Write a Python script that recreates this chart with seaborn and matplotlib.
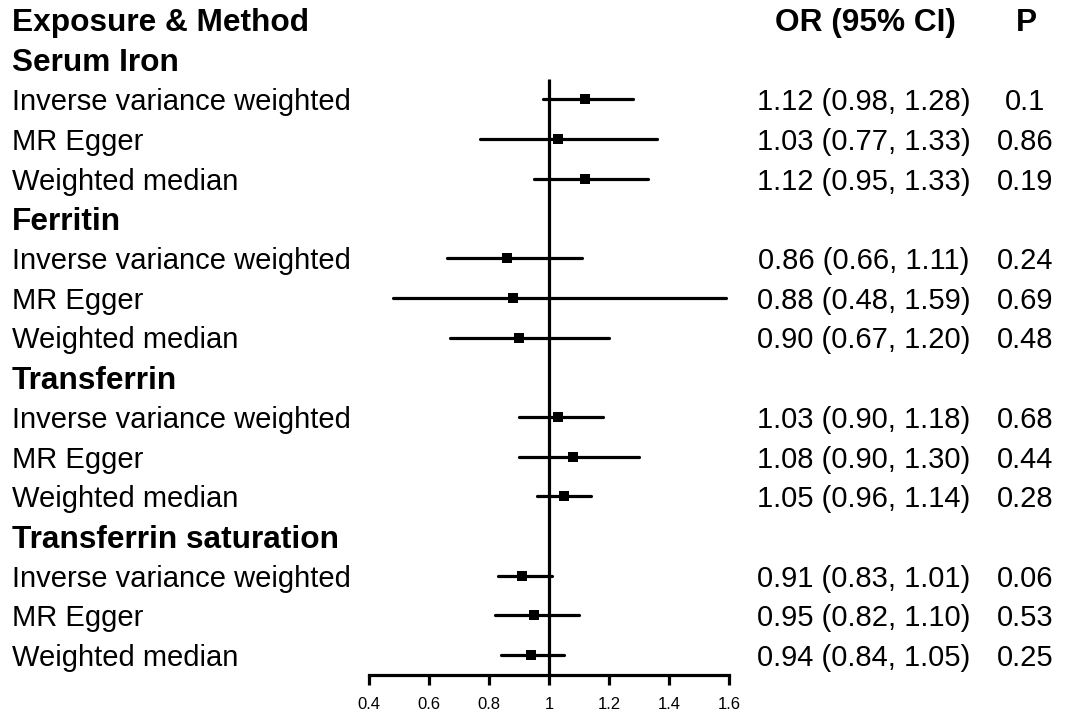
import numpy as np
import pandas as pd
import seaborn as sns
import matplotlib.pyplot as plt
import matplotlib.transforms as mtransforms

# values
exposures = ['Serum Iron', 'Ferritin', 'Transferrin', 'Transferrin saturation']
methods = ['Inverse variance weighted', 'MR Egger', 'Weighted median']
orEst = [1.12, 1.03, 1.12, 0.86, 0.88, 0.90, 1.03, 1.08, 1.05, 0.91, 0.95, 0.94]
ciLow = [0.98, 0.77, 0.95, 0.66, 0.48, 0.67, 0.90, 0.90, 0.96, 0.83, 0.82, 0.84]
ciHigh = [1.28, 1.36, 1.33, 1.11, 1.59, 1.20, 1.18, 1.30, 1.14, 1.01, 1.10, 1.05]
orText = ['1.12 (0.98, 1.28)', '1.03 (0.77, 1.33)', '1.12 (0.95, 1.33)',
          '0.86 (0.66, 1.11)', '0.88 (0.48, 1.59)', '0.90 (0.67, 1.20)',
          '1.03 (0.90, 1.18)', '1.08 (0.90, 1.30)', '1.05 (0.96, 1.14)',
          '0.91 (0.83, 1.01)', '0.95 (0.82, 1.10)', '0.94 (0.84, 1.05)']
pText = ['0.1', '0.86', '0.19', '0.24', '0.69', '0.48',
         '0.68', '0.44', '0.28', '0.06', '0.53', '0.25']
xTicks = [0.4, 0.6, 0.8, 1.0, 1.2, 1.4, 1.6]
xTickLabels = ['0.4', '0.6', '0.8', '1', '1.2', '1.4', '1.6']

sns.set_style('white')
plt.rcParams['font.family'] = ['Liberation Sans', 'DejaVu Sans']
plt.rcParams['text.color'] = 'black'
plt.rcParams['xtick.color'] = 'black'
plt.rcParams['xtick.labelcolor'] = 'black'

# build row layout: header row 0, then group title + 3 method rows per exposure
rows = []
r = 1
for gi, exp in enumerate(exposures):
    rows.append({'row': r, 'label': exp, 'kind': 'group'})
    r += 1
    for mi, m in enumerate(methods):
        k = gi * 3 + mi
        rows.append({'row': r, 'label': m, 'kind': 'method', 'or': orEst[k],
                     'lo': ciLow[k], 'hi': ciHigh[k], 'ortxt': orText[k], 'p': pText[k]})
        r += 1
df = pd.DataFrame(rows)
nRows = r
est = df[df['kind'] == 'method']

fig = plt.figure(figsize=(10.65, 7.13), dpi=100)
ax = fig.add_axes([369 / 1065, 1 - 675 / 713, 360 / 1065, 675 / 713])
ax.set_xlim(0.4, 1.6)
ax.set_ylim(nRows - 0.5, -0.5)

ax.hlines(est['row'], est['lo'], est['hi'], color='black', lw=2.3, capstyle='round')
ax.vlines(1.0, 1.5, nRows - 0.5, color='black', lw=2.3)
sns.scatterplot(data=est, x='or', y='row', marker='s', s=50, color='black',
                edgecolor='black', linewidth=0, ax=ax, zorder=3, legend=False)

for s in ['top', 'right', 'left']:
    ax.spines[s].set_visible(False)
ax.spines['bottom'].set_linewidth(2.3)
ax.spines['bottom'].set_color('black')
ax.set_xticks(xTicks)
ax.set_xticklabels(xTickLabels, fontsize=12)
ax.tick_params(axis='x', length=7.5, width=2.3, pad=8, color='black', bottom=True)
ax.set_yticks([])
ax.set_xlabel('')
ax.set_ylabel('')

trans = mtransforms.blended_transform_factory(fig.transFigure, ax.transData)
fs = 21
fsBold = 22.8
va = 'center_baseline'
ax.text(12 / 1065, 0, 'Exposure & Method', transform=trans, fontsize=fsBold,
        fontweight='bold', va=va, ha='left', clip_on=False)
ax.text(865 / 1065, 0, 'OR (95% CI)', transform=trans, fontsize=fsBold,
        fontweight='bold', va=va, ha='center', clip_on=False)
ax.text(1026 / 1065, 0, 'P', transform=trans, fontsize=fsBold,
        fontweight='bold', va=va, ha='center', clip_on=False)
for _, row in df.iterrows():
    if row['kind'] == 'group':
        ax.text(12 / 1065, row['row'], row['label'], transform=trans, fontsize=fsBold,
                fontweight='bold', va=va, ha='left', clip_on=False)
    else:
        ax.text(12 / 1065, row['row'], row['label'], transform=trans, fontsize=fs,
                va=va, ha='left', clip_on=False)
        ax.text(864 / 1065, row['row'], row['ortxt'], transform=trans, fontsize=fs,
                va=va, ha='center', clip_on=False)
        ax.text(1025 / 1065, row['row'], row['p'], transform=trans, fontsize=fs,
                va=va, ha='center', clip_on=False)

fig.savefig('out.png', dpi=100)
